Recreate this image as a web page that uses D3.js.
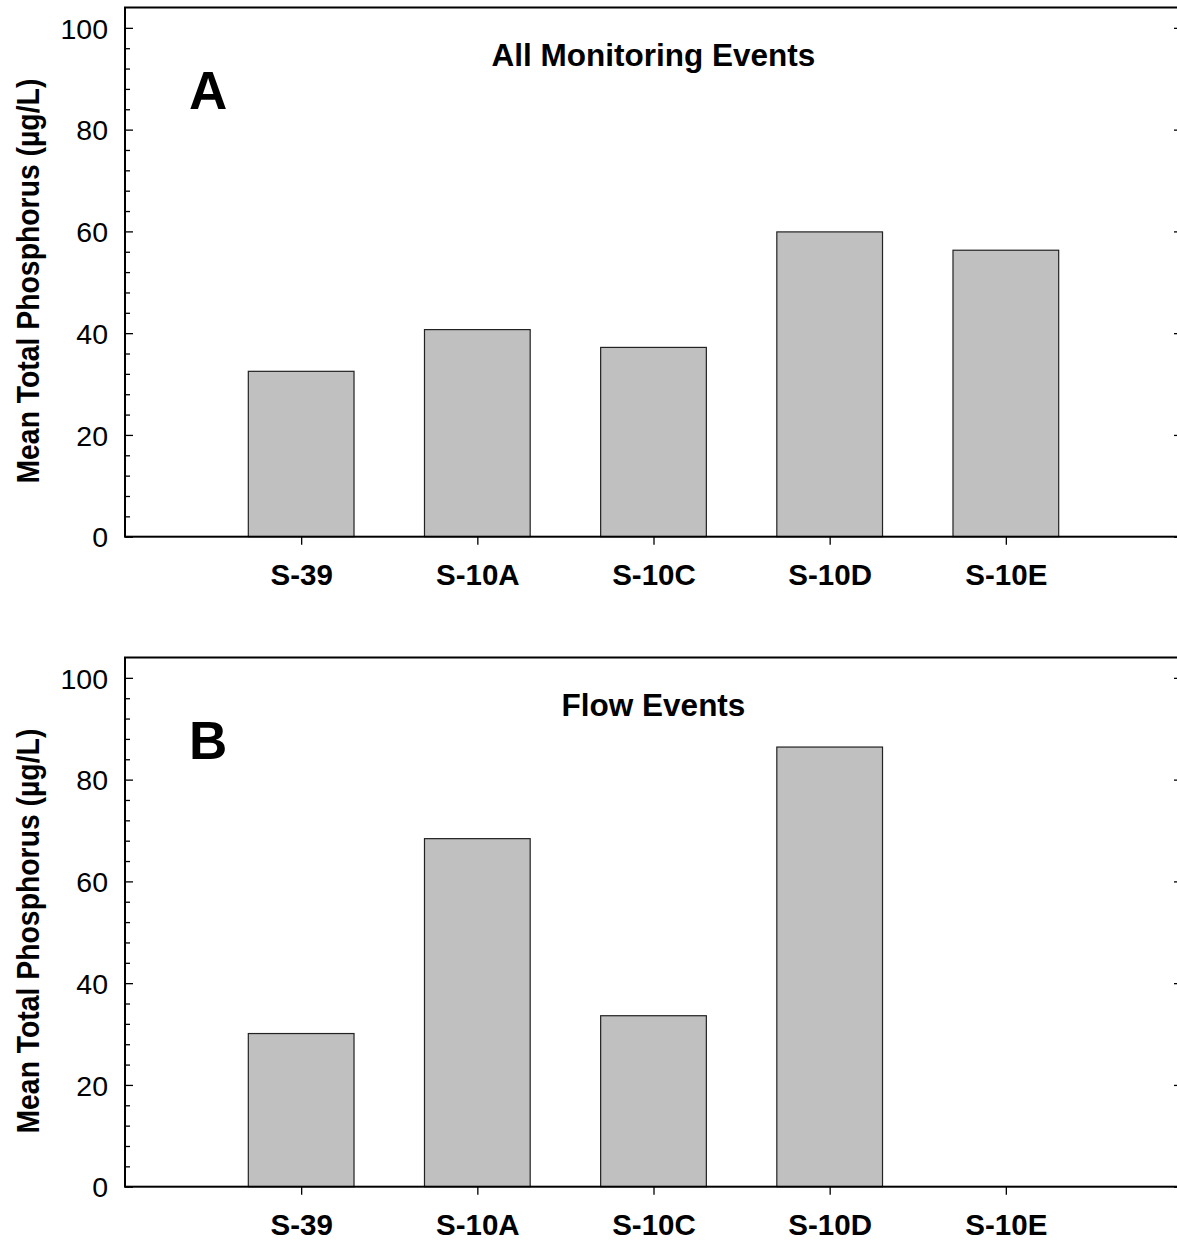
<!DOCTYPE html>
<html>
<head>
<meta charset="utf-8">
<script src="https://cdn.jsdelivr.net/npm/d3@7"></script>
<style>
  html, body { margin: 0; padding: 0; background: #fff; overflow: hidden; }
  svg { display: block; }
  text { font-family: "Liberation Sans", Arial, sans-serif; fill: #000; }
</style>
</head>
<body>
<svg id="chart" width="1177" height="1241"></svg>
<script>
// ---- data ----
const categories = ["S-39", "S-10A", "S-10C", "S-10D", "S-10E"];
const allEventsValues = [32.5, 40.7, 37.2, 59.9, 56.3];
const flowEventsValues = [30.1, 68.4, 33.6, 86.4, null];
const yMajorTicks = [0, 20, 40, 60, 80, 100];
const yMinorStep = 4;
const panelTitles = ["All Monitoring Events", "Flow Events"];
const panelLetters = ["A", "B"];
const yAxisLabel = "Mean Total Phosphorus (\u00B5g/L)";

const panels = [
  { title: panelTitles[0], letter: panelLetters[0], values: allEventsValues, top: 7.5, bottom: 536.7 },
  { title: panelTitles[1], letter: panelLetters[1], values: flowEventsValues, top: 657.5, bottom: 1186.7 }
];

const svg = d3.select("#chart");
const left = 125, right = 1182;
const yMax = 104;

const x = d3.scalePoint().domain(categories).range([left, right]).padding(1);
const barW = x.step() * 0.6;
const minorTicks = d3.range(0, 101, yMinorStep).filter(v => v % 20 !== 0);

panels.forEach(p => {
  const g = svg.append("g");
  const y = d3.scaleLinear().domain([0, yMax]).range([p.bottom, p.top]);

  // bars
  g.selectAll("rect.bar")
    .data(categories.map((c, i) => ({ c, v: p.values[i] })).filter(d => d.v != null))
    .join("rect")
    .attr("class", "bar")
    .attr("x", d => x(d.c) - barW / 2)
    .attr("y", d => y(d.v))
    .attr("width", barW)
    .attr("height", d => y(0) - y(d.v))
    .attr("fill", "#c0c0c0")
    .attr("stroke", "#222")
    .attr("stroke-width", 1.2);

  // left axis (ticks inward)
  const yAxisL = d3.axisLeft(y).tickValues(yMajorTicks).tickSize(-8).tickPadding(18).tickFormat(d3.format("d"));
  const gl = g.append("g").attr("transform", `translate(${left},0)`).call(yAxisL);
  gl.select(".domain").remove();
  gl.selectAll(".tick line").attr("stroke", "#000").attr("stroke-width", 1.3);
  gl.selectAll(".tick text").style("font-size", "28.5px").attr("x", -17).attr("dy", "0.36em");
  const glm = g.append("g").attr("transform", `translate(${left},0)`)
    .call(d3.axisLeft(y).tickValues(minorTicks).tickSize(-5).tickFormat(""));
  glm.select(".domain").remove();
  glm.selectAll(".tick line").attr("stroke", "#000").attr("stroke-width", 1.3);

  // right axis (ticks inward)
  const gr = g.append("g").attr("transform", `translate(${right},0)`)
    .call(d3.axisRight(y).tickValues(yMajorTicks).tickSize(-8).tickFormat(""));
  gr.select(".domain").remove();
  gr.selectAll(".tick line").attr("stroke", "#000").attr("stroke-width", 1.3);
  const grm = g.append("g").attr("transform", `translate(${right},0)`)
    .call(d3.axisRight(y).tickValues(minorTicks).tickSize(-5).tickFormat(""));
  grm.select(".domain").remove();
  grm.selectAll(".tick line").attr("stroke", "#000").attr("stroke-width", 1.3);

  // bottom axis (ticks outward)
  const gb = g.append("g").attr("transform", `translate(0,${p.bottom})`)
    .call(d3.axisBottom(x).tickSize(8).tickPadding(18));
  gb.select(".domain").remove();
  gb.selectAll(".tick line").attr("stroke", "#000").attr("stroke-width", 1.3);
  gb.selectAll(".tick text").style("font-size", "29.5px").style("font-weight", "bold")
    .attr("dy", "0.71em").attr("y", 27);

  // frame
  g.append("rect")
    .attr("x", left).attr("y", p.top)
    .attr("width", right - left).attr("height", p.bottom - p.top)
    .attr("fill", "none").attr("stroke", "#000").attr("stroke-width", 2);

  // title
  g.append("text")
    .attr("x", (left + right) / 2).attr("y", p.top + 58.5)
    .attr("text-anchor", "middle")
    .style("font-size", "31.5px").style("font-weight", "bold")
    .text(p.title);

  // panel letter
  g.append("text")
    .attr("x", 189).attr("y", p.top + 101.5)
    .style("font-size", "53px").style("font-weight", "bold")
    .text(p.letter);

  // y label
  g.append("text")
    .attr("transform", `translate(39,${(p.top + p.bottom) / 2 + 9}) rotate(-90) scale(0.93,1)`)
    .attr("text-anchor", "middle")
    .style("font-size", "30.5px").style("font-weight", "bold")
    .text(yAxisLabel);
});
</script>
</body>
</html>
